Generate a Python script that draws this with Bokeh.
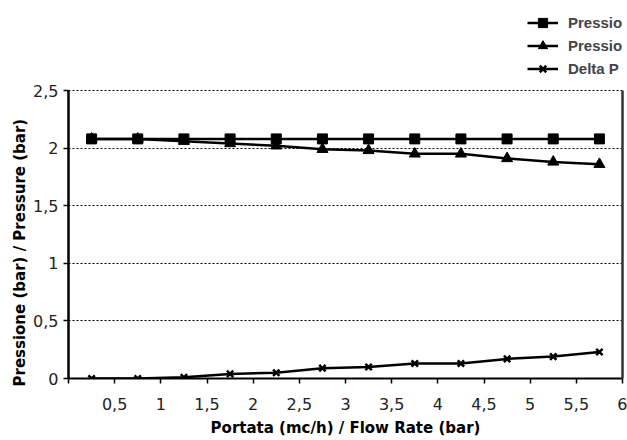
from bokeh.plotting import figure
from bokeh.models import FixedTicker, Legend, LegendItem, Range1d, CustomJSTickFormatter, LinearAxis, Title
from bokeh.embed import file_html
from bokeh.resources import INLINE

# Data
flow = [0.25, 0.75, 1.25, 1.75, 2.25, 2.75, 3.25, 3.75, 4.25, 4.75, 5.25, 5.75]
p_in = [2.08, 2.08, 2.08, 2.08, 2.08, 2.08, 2.08, 2.08, 2.08, 2.08, 2.08, 2.08]
p_out = [2.08, 2.08, 2.06, 2.04, 2.02, 1.99, 1.98, 1.95, 1.95, 1.91, 1.88, 1.86]
delta = [0.0, 0.0, 0.01, 0.04, 0.05, 0.09, 0.10, 0.13, 0.13, 0.17, 0.19, 0.23]
x_ticks = [0, 0.5, 1, 1.5, 2, 2.5, 3, 3.5, 4, 4.5, 5, 5.5, 6]
y_ticks = [0, 0.5, 1, 1.5, 2, 2.5]
names = ["Pressione ingresso / Inlet pressure",
         "Pressione uscita / Outlet pressure",
         "Delta P"]

TICK_FONT = "DejaVu Sans"
TITLE_FONT = "DejaVu Sans"

# frame spans the full height above the axis so the legend can sit inside it
p = figure(width=627, height=440, output_backend="svg", toolbar_location=None,
           x_range=Range1d(0, 6), y_range=Range1d(0, 3.28125),
           min_border_left=68, min_border_right=5, min_border_top=0, min_border_bottom=62)
p.outline_line_color = None
p.background_fill_color = "white"
p.border_fill_color = "white"

p.xgrid.visible = False
p.ygrid.ticker = FixedTicker(ticks=[0.5, 1, 1.5, 2, 2.5])
p.ygrid.grid_line_color = "black"
p.ygrid.grid_line_dash = "2 2"
p.ygrid.grid_line_width = 1

fmt_x = CustomJSTickFormatter(code="return tick == 0 ? '' : tick.toString().replace('.', ',')")
fmt_y = CustomJSTickFormatter(code="return tick.toString().replace('.', ',')")

p.xaxis.ticker = FixedTicker(ticks=x_ticks)
p.yaxis.ticker = FixedTicker(ticks=y_ticks)
p.xaxis.formatter = fmt_x
p.yaxis.formatter = fmt_y
p.yaxis.bounds = (0, 2.5)

for ax in (p.xaxis, p.yaxis):
    ax.axis_line_color = "black"
    ax.major_tick_line_color = "black"
    ax.major_tick_line_width = 1.5
    ax.major_tick_in = 0
    ax.major_tick_out = 5
    ax.minor_tick_line_color = None
    ax.major_label_text_font = TICK_FONT
    ax.major_label_text_font_size = "16px"
    ax.major_label_text_color = "#222222"
    ax.axis_label_text_font = TITLE_FONT
    ax.axis_label_text_font_style = "bold"
    ax.axis_label_text_font_size = "15px"
    ax.axis_label_text_color = "black"

p.yaxis.axis_line_width = 2.5
p.xaxis.axis_line_width = 2
p.yaxis.major_label_standoff = 5
p.xaxis.major_label_standoff = 14
p.xaxis.axis_label = "Portata (mc/h) / Flow Rate (bar)"
p.xaxis.axis_label_standoff = 6

# right border of the plot area (x = 6), limited to the 0..2.5 band
right_border = LinearAxis(bounds=(0, 2.5), ticker=FixedTicker(ticks=[]),
                          axis_line_color="#333333", axis_line_width=2.5,
                          major_tick_line_color=None, minor_tick_line_color=None,
                          major_label_text_font_size="0px")
p.add_layout(right_border, "right")

# y axis title, placed along the 0..2.5 band
p.add_layout(Title(text="Pressione (bar) / Pressure (bar)", align="left", offset=-8,
                   text_font=TITLE_FONT, text_font_style="bold", text_font_size="15px",
                   text_color="black", standoff=4), "left")

l1 = p.line(flow, p_in, line_color="black", line_width=2.5)
s1 = p.scatter(flow, p_in, marker="square", size=10, color="black")
l2 = p.line(flow, p_out, line_color="black", line_width=2.5)
s2 = p.scatter(flow, p_out, marker="triangle", size=11, color="black")
l3 = p.line(flow, delta, line_color="black", line_width=2.5)
s3 = p.scatter(flow, delta, marker="x", size=9, line_color="black", line_width=2.5)

legend = Legend(items=[LegendItem(label=names[0], renderers=[l1, s1]),
                       LegendItem(label=names[1], renderers=[l2, s2]),
                       LegendItem(label=names[2], renderers=[l3, s3])],
                location=(459, 298),
                label_text_font="Liberation Sans", label_text_font_style="bold",
                label_text_font_size="15px", glyph_width=31, glyph_height=23,
                label_height=23, label_standoff=10, spacing=0, padding=0, margin=0,
                border_line_color=None, background_fill_alpha=0)
p.add_layout(legend)

open("out.html", "w").write(file_html(p, INLINE))
